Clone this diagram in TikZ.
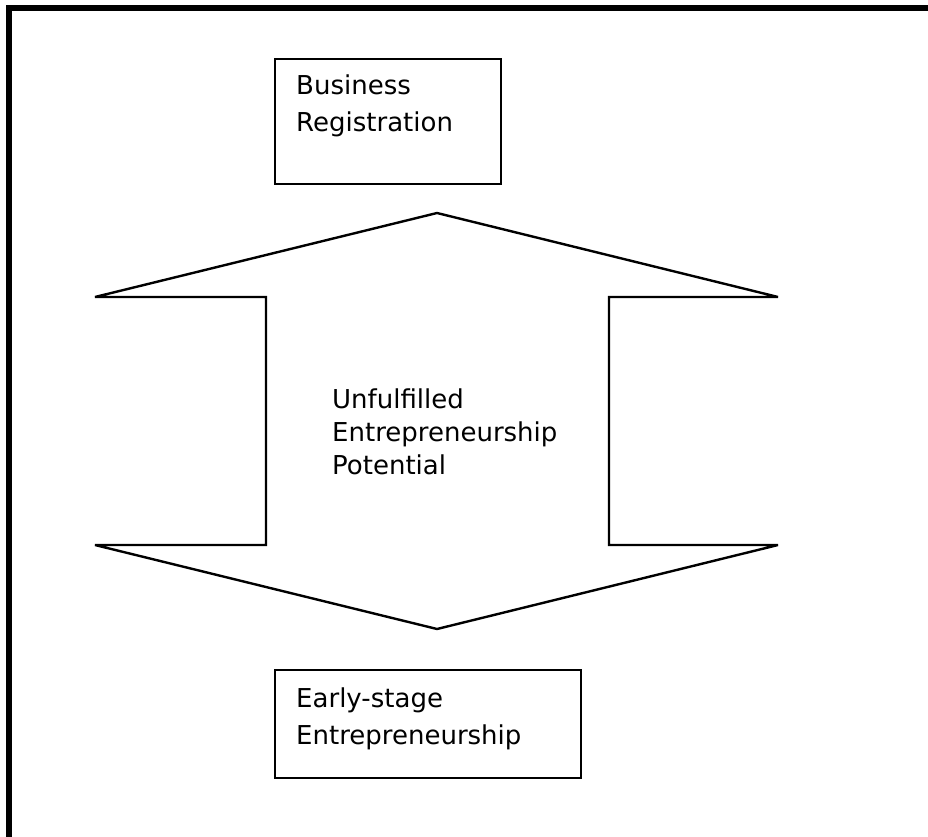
\documentclass[tikz,border=0pt]{standalone}
\usepackage{fontspec}
\setmainfont{DejaVu Sans}
\begin{document}
\begin{tikzpicture}[x=1pt,y=-1pt,line join=miter,
  box/.style={draw, line width=2.4pt, inner sep=0pt, anchor=north west},
  lbl/.style={anchor=base west, inner sep=0pt, font=\fontsize{26}{37}\selectfont},
  lblc/.style={anchor=base west, inner sep=0pt, font=\fontsize{26}{33}\selectfont},
  arrowoutline/.style={draw, line width=2.4pt, miter limit=2}]
\useasboundingbox (0,0) rectangle (928,837);
% outer frame (top and left edges only)
\draw[line width=6.5pt] (9,837) -- (9,8) -- (928,8);
% boxes
\node[box, minimum width=226pt, minimum height=125pt] (reg) at (274,58) {};
\node[lbl] (regtext) at (296,95) {\begin{tabular}[t]{@{}l@{}}Business\\Registration\end{tabular}};
\node[box, minimum width=306pt, minimum height=108pt] (early) at (274,669) {};
\node[lbl] (earlytext) at (296,707) {\begin{tabular}[t]{@{}l@{}}Early-stage\\Entrepreneurship\end{tabular}};
% double arrow
\draw[arrowoutline] (437,213) -- (778,297) -- (609,297) -- (609,545) -- (778,545)
  -- (437,629) -- (95,545) -- (266,545) -- (266,297) -- (95,297) -- cycle;
\node[lblc] (unf) at (332,408) {\begin{tabular}[t]{@{}l@{}}Unfulfilled\\Entrepreneurship\\Potential\end{tabular}};
\end{tikzpicture}
\end{document}
